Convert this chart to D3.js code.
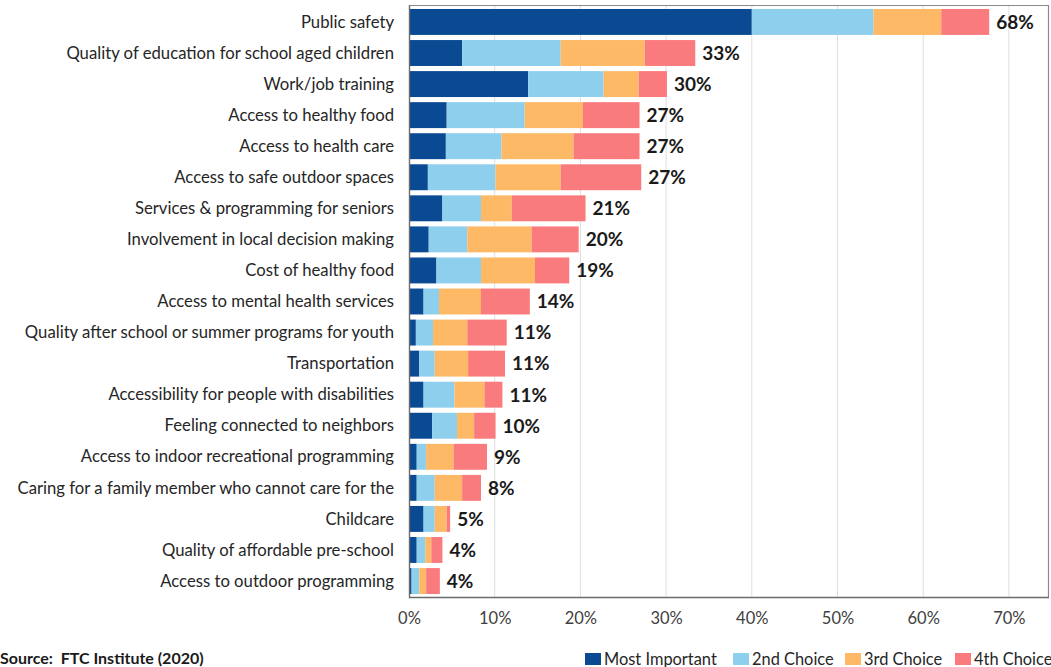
<!DOCTYPE html>
<html>
<head>
<meta charset="utf-8">
<script src="https://cdn.jsdelivr.net/npm/d3@7"></script>
<style>
  html, body { margin: 0; padding: 0; background: #fff; }
  svg { display: block; }
  text { font-family: Lato, "Open Sans", sans-serif; }
</style>
</head>
<body>
<svg id="chart" width="1051" height="667"></svg>
<script>
// Community priorities, share of respondents choosing each item (percent)
const categories = [
  "Public safety",
  "Quality of education for school aged children",
  "Work/job training",
  "Access to healthy food",
  "Access to health care",
  "Access to safe outdoor spaces",
  "Services & programming for seniors",
  "Involvement in local decision making",
  "Cost of healthy food",
  "Access to mental health services",
  "Quality after school or summer programs for youth",
  "Transportation",
  "Accessibility for people with disabilities",
  "Feeling connected to neighbors",
  "Access to indoor recreational programming",
  "Caring for a family member who cannot care for the",
  "Childcare",
  "Quality of affordable pre-school",
  "Access to outdoor programming"
];

const seriesNames = ["Most Important", "2nd Choice", "3rd Choice", "4th Choice"];

const mostImportant = [40.0, 6.2, 13.9, 4.4, 4.3, 2.2, 3.9, 2.3, 3.2, 1.7, 0.8, 1.2, 1.7, 2.7, 0.9, 0.9, 1.7, 0.9, 0.3];
const secondChoice  = [14.2, 11.5, 8.8, 9.1, 6.5, 7.9, 4.5, 4.5, 5.2, 1.8, 2.0, 1.8, 3.6, 2.9, 1.1, 2.1, 1.3, 1.0, 0.9];
const thirdChoice   = [ 7.9, 9.8, 4.1, 6.8, 8.4, 7.6, 3.6, 7.5, 6.3, 4.9, 4.0, 3.9, 3.5, 2.0, 3.2, 3.2, 1.4, 0.7, 0.8];
const fourthChoice  = [ 5.6, 5.9, 3.3, 6.6, 7.7, 9.4, 8.6, 5.5, 4.0, 5.7, 4.6, 4.3, 2.1, 2.5, 3.9, 2.2, 0.4, 1.3, 1.6];

const xTicks = [0, 10, 20, 30, 40, 50, 60, 70];

const colors = ["#0a4a92", "#8ecfee", "#fdb965", "#fa7b7e"];

const sourceText = "Source:  FTC Institute (2020)";

// ---- build stacked rows ----
const rows = categories.map((c, i) => ({
  category: c,
  "Most Important": mostImportant[i],
  "2nd Choice": secondChoice[i],
  "3rd Choice": thirdChoice[i],
  "4th Choice": fourthChoice[i]
}));
const stacked = d3.stack().keys(seriesNames)(rows);
const totals = rows.map(r => seriesNames.reduce((s, k) => s + r[k], 0));

// ---- layout ----
const svg = d3.select("#chart");
const plotLeft = 409, plotRight = 1048, plotTop = 5, plotBottom = 597;

const x = d3.scaleLinear().domain([0, 75]).range([plotLeft, plotLeft + 75 * 8.57]);
const y = d3.scaleBand()
  .domain(categories)
  .range([6.5, 596.5])
  .paddingInner(0.165)
  .paddingOuter(0.08);

// gridlines
svg.append("g")
  .selectAll("line")
  .data(xTicks.filter(t => t > 0))
  .join("line")
  .attr("x1", d => x(d)).attr("x2", d => x(d))
  .attr("y1", plotTop).attr("y2", plotBottom)
  .attr("stroke", "#dedede")
  .attr("stroke-width", 1);

// frame top/right
svg.append("path")
  .attr("d", `M${plotLeft},${plotTop + 0.5}H${plotRight + 0.5}V${plotBottom}`)
  .attr("fill", "none")
  .attr("stroke", "#8a8a8a")
  .attr("stroke-width", 1.2);

// bars
svg.append("g")
  .selectAll("g")
  .data(stacked)
  .join("g")
  .attr("fill", (d, i) => colors[i])
  .selectAll("rect")
  .data(d => d)
  .join("rect")
  .attr("x", d => x(d[0]))
  .attr("width", d => Math.max(0, x(d[1]) - x(d[0])))
  .attr("y", d => y(d.data.category))
  .attr("height", y.bandwidth());

// axes lines (left and bottom)
svg.append("path")
  .attr("d", `M${plotLeft + 0.5},${plotTop}V${plotBottom + 0.5}H${plotRight + 1}`)
  .attr("fill", "none")
  .attr("stroke", "#6b6b6b")
  .attr("stroke-width", 1.4);

// x tick labels via d3 axis
const xAxis = d3.axisBottom(x)
  .tickValues(xTicks)
  .tickSize(0)
  .tickPadding(0)
  .tickFormat(d => d + "%");
const xg = svg.append("g")
  .attr("transform", `translate(0,${612})`)
  .call(xAxis);
xg.select(".domain").remove();
xg.selectAll("text")
  .attr("font-family", "Lato, sans-serif")
  .attr("font-size", 16.5)
  .attr("fill", "#404040");

// category labels via d3 axis
const yAxis = d3.axisLeft(y).tickSize(0).tickPadding(0);
const yg = svg.append("g")
  .attr("transform", `translate(${394},0)`)
  .call(yAxis);
yg.select(".domain").remove();
yg.selectAll("text")
  .attr("font-family", "Lato, sans-serif")
  .attr("font-size", 16.7)
  .attr("fill", "#262626")
  .attr("dy", "0.34em");

// total labels
svg.append("g")
  .selectAll("text")
  .data(rows)
  .join("text")
  .attr("x", (d, i) => x(totals[i]) + 7)
  .attr("y", d => y(d.category) + y.bandwidth() / 2)
  .attr("dy", "0.36em")
  .attr("font-family", "Lato, sans-serif")
  .attr("font-weight", 700)
  .attr("font-size", 19)
  .attr("fill", "#1a1a1a")
  .text((d, i) => Math.round(Math.round(totals[i] * 10) / 10) + "%");

// legend
const legendX = [585, 733, 845, 955];
const legend = svg.append("g")
  .selectAll("g")
  .data(seriesNames)
  .join("g")
  .attr("transform", (d, i) => `translate(${legendX[i]},0)`);
legend.append("rect")
  .attr("x", 0).attr("y", 653)
  .attr("width", 16).attr("height", 12)
  .attr("fill", (d, i) => colors[i]);
legend.append("text")
  .attr("x", 19).attr("y", 665)
  .attr("font-family", "Lato, sans-serif")
  .attr("font-size", 16.4)
  .attr("fill", "#262626")
  .text(d => d);

// source note
svg.append("text")
  .attr("x", 0).attr("y", 664)
  .attr("font-family", "Lato, sans-serif")
  .attr("font-weight", 700)
  .attr("font-size", 16)
  .attr("fill", "#1a1a1a")
  .attr("xml:space", "preserve")
  .style("white-space", "pre")
  .text(sourceText);
</script>
</body>
</html>
